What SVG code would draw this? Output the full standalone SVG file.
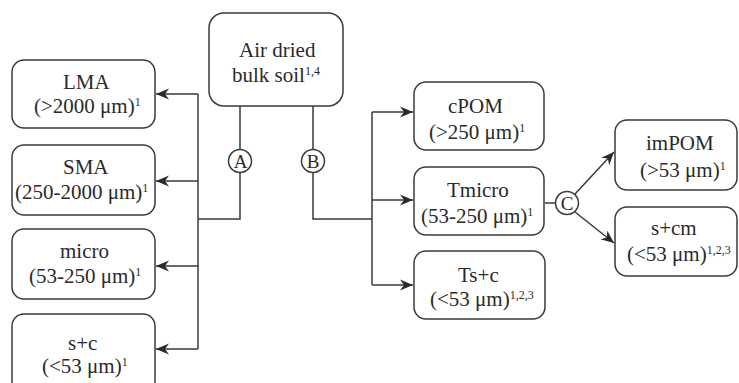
<svg xmlns="http://www.w3.org/2000/svg" width="739" height="383" viewBox="0 0 739 383">
<defs>
<marker id="ah" markerUnits="userSpaceOnUse" markerWidth="14" markerHeight="12" viewBox="0 0 14 12" refX="13" refY="6" orient="auto">
<path d="M0,0.5 L13,6 L0,11.5 L4,6 z" fill="#2a2a2a"/>
</marker>
</defs>
<rect width="739" height="383" fill="#fff"/>
<g id="connectors" fill="none" stroke="#3a3a3a" stroke-width="1.5">
<path d="M240,106 V219 H198"/>
<path d="M198,94 V349"/>
<path d="M198,94 H156" marker-end="url(#ah)"/>
<path d="M198,181 H156" marker-end="url(#ah)"/>
<path d="M198,266 H156" marker-end="url(#ah)"/>
<path d="M198,349 H156" marker-end="url(#ah)"/>
<path d="M313,106 V219 H372"/>
<path d="M372,112 V285"/>
<path d="M372,112 H413" marker-end="url(#ah)"/>
<path d="M372,200 H413" marker-end="url(#ah)"/>
<path d="M372,285 H413" marker-end="url(#ah)"/>
<path d="M545,203 H556"/>
<path d="M575,194 L614,152" marker-end="url(#ah)"/>
<path d="M575,212 L614,243" marker-end="url(#ah)"/>
</g>
<g id="nodes" fill="#2a2a2a" font-family="Times New Roman" font-size="21">
<g id="circleA"><circle cx="240" cy="161" r="11.5" fill="#fff" stroke="#3a3a3a" stroke-width="1.5"/><text font-family="Times New Roman" font-size="19" x="233.7" y="167.5">A</text></g>
<g id="circleB"><circle cx="313" cy="161" r="11.5" fill="#fff" stroke="#3a3a3a" stroke-width="1.5"/><text font-family="Times New Roman" font-size="19" x="306.7" y="167.5">B</text></g>
<g id="circleC"><circle cx="567" cy="203" r="11.5" fill="#fff" stroke="#3a3a3a" stroke-width="1.5"/><text font-family="Times New Roman" font-size="19" x="560.7" y="209.5">C</text></g>
<g id="bulk"><rect x="209" y="13" width="134" height="93" rx="15" fill="#fff" stroke="#3a3a3a" stroke-width="1.5"/>
<text font-family="Times New Roman" x="239" y="57">Air dried</text>
<text font-family="Times New Roman" x="232" y="82">bulk soil<tspan font-family="Times New Roman" font-size="12" dy="-7">1,4</tspan></text></g>
<g id="LMA"><rect x="12" y="60" width="143" height="68" rx="12" fill="#fff" stroke="#3a3a3a" stroke-width="1.5"/>
<text font-family="Times New Roman" x="63" y="89">LMA</text>
<text font-family="Times New Roman" x="34" y="113">(&gt;2000 μm)<tspan font-family="Times New Roman" font-size="12" dy="-7">1</tspan></text></g>
<g id="SMA"><rect x="12" y="145" width="143" height="70" rx="12" fill="#fff" stroke="#3a3a3a" stroke-width="1.5"/>
<text font-family="Times New Roman" x="63" y="174">SMA</text>
<text font-family="Times New Roman" x="15" y="199">(250-2000 μm)<tspan font-family="Times New Roman" font-size="12" dy="-7">1</tspan></text></g>
<g id="micro"><rect x="12" y="229" width="143" height="70" rx="12" fill="#fff" stroke="#3a3a3a" stroke-width="1.5"/>
<text font-family="Times New Roman" x="60" y="258">micro</text>
<text font-family="Times New Roman" x="29" y="283">(53-250 μm)<tspan font-family="Times New Roman" font-size="12" dy="-7">1</tspan></text></g>
<g id="sc"><rect x="12" y="314" width="143" height="80" rx="12" fill="#fff" stroke="#3a3a3a" stroke-width="1.5"/>
<text font-family="Times New Roman" x="68" y="350">s+c</text>
<text font-family="Times New Roman" x="42" y="373">(&lt;53 μm)<tspan font-family="Times New Roman" font-size="12" dy="-7">1</tspan></text></g>
<g id="cPOM"><rect x="414" y="82" width="130" height="68" rx="12" fill="#fff" stroke="#3a3a3a" stroke-width="1.5"/>
<text font-family="Times New Roman" x="448" y="113">cPOM</text>
<text font-family="Times New Roman" x="429" y="139">(&gt;250 μm)<tspan font-family="Times New Roman" font-size="12" dy="-7">1</tspan></text></g>
<g id="Tmicro"><rect x="414" y="167" width="130" height="68" rx="12" fill="#fff" stroke="#3a3a3a" stroke-width="1.5"/>
<text font-family="Times New Roman" x="447" y="197">Tmicro</text>
<text font-family="Times New Roman" x="421" y="223">(53-250 μm)<tspan font-family="Times New Roman" font-size="12" dy="-7">1</tspan></text></g>
<g id="Tsc"><rect x="414" y="251" width="131" height="68" rx="12" fill="#fff" stroke="#3a3a3a" stroke-width="1.5"/>
<text font-family="Times New Roman" x="458" y="282">Ts+c</text>
<text font-family="Times New Roman" x="430" y="306">(&lt;53 μm)<tspan font-family="Times New Roman" font-size="12" dy="-7">1,2,3</tspan></text></g>
<g id="imPOM"><rect x="615" y="120" width="122" height="70" rx="12" fill="#fff" stroke="#3a3a3a" stroke-width="1.5"/>
<text font-family="Times New Roman" x="646" y="150">imPOM</text>
<text font-family="Times New Roman" x="640" y="177">(&gt;53 μm)<tspan font-family="Times New Roman" font-size="12" dy="-7">1</tspan></text></g>
<g id="scm"><rect x="615" y="207" width="122" height="69" rx="12" fill="#fff" stroke="#3a3a3a" stroke-width="1.5"/>
<text font-family="Times New Roman" x="651" y="235">s+cm</text>
<text font-family="Times New Roman" x="627" y="261">(&lt;53 μm)<tspan font-family="Times New Roman" font-size="12" dy="-7">1,2,3</tspan></text></g>
</g>
</svg>
